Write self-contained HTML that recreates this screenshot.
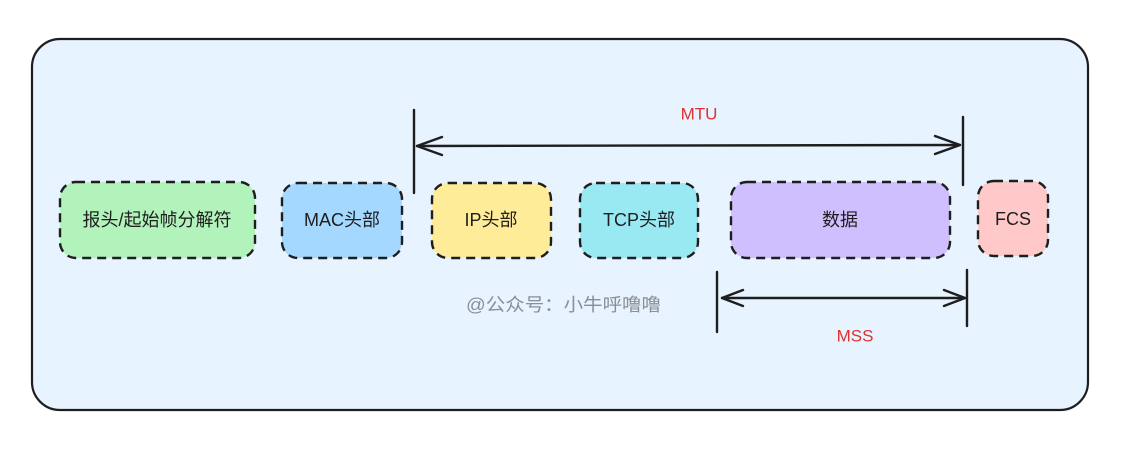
<!DOCTYPE html>
<html><head><meta charset="utf-8"><style>
html,body{margin:0;padding:0;background:#fff;}
svg{display:block;}
text{font-family:"Liberation Sans","Noto Sans CJK SC",sans-serif;}
</style></head><body>
<svg width="1133" height="453" viewBox="0 0 1133 453" xmlns="http://www.w3.org/2000/svg">
<rect x="32" y="39" width="1056" height="371" rx="28" fill="#e7f3fe" stroke="#1e1e1e" stroke-width="2.2"/>
<g stroke="#1e1e1e" stroke-width="2.4" stroke-dasharray="9 6" fill-opacity="1">
<rect x="60" y="182" width="195" height="76" rx="16" fill="#b2f2bb"/>
<rect x="282" y="183" width="120" height="75" rx="16" fill="#a5d8ff"/>
<rect x="432" y="183" width="119" height="75" rx="16" fill="#ffec99"/>
<rect x="580" y="183" width="118" height="75" rx="16" fill="#99e9f2"/>
<rect x="731" y="182" width="219" height="76" rx="16" fill="#d0bfff"/>
<rect x="978" y="181" width="70" height="75" rx="16" fill="#ffc9c9"/>
</g>
<g font-size="18" fill="#1e1e1e" text-anchor="middle" dominant-baseline="central">
<text x="157" y="220">报头/起始帧分解符</text>
<text x="342" y="220">MAC头部</text>
<text x="491" y="220">IP头部</text>
<text x="639" y="220">TCP头部</text>
<text x="840" y="220">数据</text>
<text x="1013" y="219">FCS</text>
</g>
<g stroke="#1e1e1e" stroke-width="2.4" fill="none" stroke-linecap="round" stroke-linejoin="round">
<line x1="414" y1="110" x2="414" y2="193"/>
<line x1="963" y1="117" x2="963" y2="185"/>
<line x1="417" y1="146" x2="960" y2="145"/>
<polyline points="442,137 417,146 442,155"/>
<polyline points="935,136 960,145 935,154"/>
<line x1="717" y1="272" x2="717" y2="332"/>
<line x1="967" y1="270" x2="967" y2="326"/>
<line x1="722" y1="298" x2="965" y2="298"/>
<polyline points="743,290 722,298 743,306"/>
<polyline points="944,290 965,298 944,306"/>
</g>
<text x="699" y="114" font-size="17" fill="#e03131" text-anchor="middle" dominant-baseline="central">MTU</text>
<text x="855" y="336" font-size="17" fill="#e03131" text-anchor="middle" dominant-baseline="central">MSS</text>
<text x="466" y="305" font-size="18" fill="#8a8f96" dominant-baseline="central" textLength="195" lengthAdjust="spacingAndGlyphs">@公众号：小牛呼噜噜</text>
</svg>
</body></html>
